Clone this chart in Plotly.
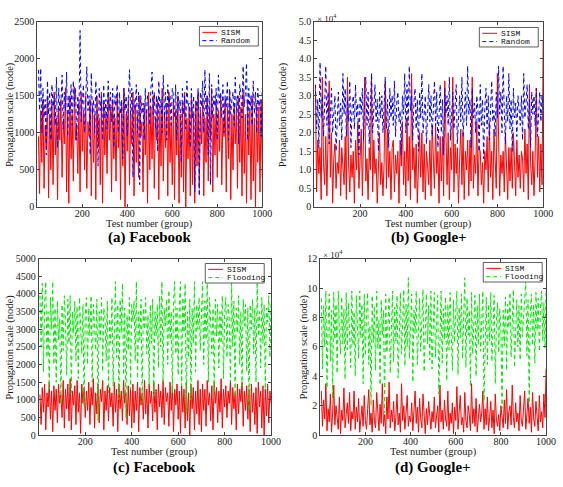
import plotly.graph_objects as go

W, H = 563, 487

# Test numbers (group), one sample every 5 groups
test_no = list(range(5, 1001, 5))

# (a) Facebook: SISM vs Random (nodes)
a_sism = [950,180,1300,600,1450,250,1100,800,1500,120,1250,500,1400,300,1550,700,1200,100,1350,900,
          1450,400,1150,850,1600,200,1300,50,1500,650,1250,350,1620,900,1100,450,1400,200,1550,750,
          1300,500,1500,250,1150,950,1450,150,1350,600,1250,100,1500,800,1200,300,1550,50,1400,700,
          1250,450,1550,900,1350,200,1450,650,1200,350,1500,800,1300,100,1400,550,1600,0,1250,750,
          1450,300,1200,850,1550,150,1350,600,1250,400,1500,950,1150,200,1400,700,1300,50,1550,500,
          1350,650,1500,250,1200,900,1450,100,1300,550,1600,350,1250,800,1400,150,1550,600,1150,300,
          1450,100,1300,700,1500,50,1250,400,1400,200,1550,0,1200,650,1350,150,1500,300,1250,50,
          1400,550,1550,250,1300,850,1450,150,1200,600,1500,350,1350,900,1600,200,1250,700,1450,400,
          1300,750,1500,300,1200,950,1450,200,1350,650,1550,100,1250,500,1400,850,1300,250,1500,600,
          1350,150,1550,450,1250,50,1450,700,1300,100,1500,350,1200,0,1400,600,1350,200,1450,400]
a_random = [1850,1300,1870,1000,1600,1200,1450,700,1700,1250,1550,900,1650,1350,1500,1100,1750,800,1600,1300,
            1400,1780,1050,1550,1300,1820,950,1500,1250,1650,1100,1700,1350,1600,900,1500,1250,2380,1150,1450,
            1650,1000,1600,1890,1300,1500,700,1810,1250,1450,1000,1700,1400,550,1600,1300,1500,900,1650,1200,
            1450,1050,1700,1300,1550,1150,1600,800,1500,1350,1650,1000,1550,1250,1450,650,1600,1300,1500,950,
            1500,1850,1200,1600,400,1450,1300,1650,1000,1550,300,1500,1250,1400,900,1600,1150,1500,1350,1100,
            1600,1820,1250,1550,1050,1500,750,1700,1300,1450,1000,1780,1200,1550,900,1650,1350,1500,1100,1600,
            1500,1200,1650,900,1550,1300,1450,600,1600,1250,1500,1050,1700,1350,1400,800,1600,1200,1500,200,
            1450,1300,1600,150,1550,1350,1700,1000,1850,1250,1500,700,1800,300,1650,1200,1500,1350,1600,900,
            1780,1400,1550,1200,1650,1000,1500,1350,1700,900,1600,1250,1450,1550,1100,1750,1300,1500,850,1650,
            1500,1200,1900,1350,1550,1940,900,1600,1300,1500,1100,1700,1250,1550,1000,1600,1350,1450,950,1600]

# (b) Google+: SISM vs Random (x 10^4 nodes)
b_sism = [3.2,0.4,1.8,0.9,1.6,0.2,3.5,1.2,0.6,1.9,0.3,1.5,3.4,0.8,2.0,0.1,1.3,1.7,0.5,1.2,
          0.9,1.8,0.3,1.6,1.2,0.6,1.9,0.2,3.5,1.1,0.4,1.4,0.8,1.5,0.1,1.8,1.0,2.3,0.5,1.4,
          2.1,0.3,1.7,3.5,0.7,1.3,0.2,1.6,1.0,3.6,0.4,1.8,0.9,1.3,0.1,1.5,2.0,0.6,1.2,0.3,
          1.2,3.4,0.5,2.1,0.8,1.5,0.2,1.6,1.8,0.4,1.4,0.9,1.5,0.1,1.8,1.1,2.3,0.6,1.5,0.3,
          2.4,0.7,1.9,0.2,3.6,1.0,1.6,0.5,1.7,0.1,1.3,2.0,0.8,2.0,0.4,1.7,0.2,1.5,1.1,0.6,
          1.8,0.3,2.2,1.2,0.5,2.2,0.9,1.5,0.1,1.9,0.7,1.9,0.3,3.4,1.4,0.6,2.0,0.2,1.6,1.0,
          3.5,0.4,1.7,0.9,1.6,0.1,1.3,2.1,0.6,2.0,0.2,1.5,1.0,1.8,0.3,1.8,0.7,3.5,0.5,1.4,
          0.9,2.3,0.3,1.6,1.5,0.6,1.2,0.1,1.5,1.0,1.9,0.4,2.3,0.8,1.5,0.2,2.1,1.1,0.5,3.6,
          1.8,0.3,1.4,0.9,1.5,0.4,2.0,1.2,0.2,1.6,0.7,1.6,0.5,2.0,1.1,0.3,1.8,0.8,1.4,0.5,
          1.5,1.3,0.4,2.1,0.9,1.7,0.2,3.3,1.2,0.6,1.5,0.3,1.4,3.2,0.8,1.9,0.4,1.7,0.6,4.5]
b_random = [3.3,2.1,2.9,1.6,3.9,2.4,3.0,1.9,2.7,3.8,2.2,3.1,1.7,2.8,3.2,2.0,2.6,3.0,1.5,2.5,
            3.1,2.2,2.8,1.8,3.6,2.5,3.2,1.9,2.9,2.3,3.4,1.6,2.7,3.0,2.1,3.3,2.4,2.8,1.4,3.0,
            2.5,3.2,1.8,2.9,3.5,2.2,3.1,1.7,2.6,3.6,2.0,2.8,3.3,2.3,2.9,1.5,3.1,2.4,3.0,2.0,
            2.7,3.5,2.1,2.9,1.6,3.2,2.4,3.0,2.2,3.4,1.9,2.8,3.1,2.3,2.6,1.4,3.0,2.5,3.6,2.0,
            3.3,2.2,3.8,2.6,3.0,1.8,2.8,3.2,2.1,2.9,1.5,3.1,2.4,3.6,2.0,2.7,3.0,1.7,2.5,3.3,
            2.3,3.0,1.9,2.8,3.4,2.2,3.1,1.6,2.6,3.3,2.0,2.9,1.4,3.2,2.5,3.0,2.2,3.5,1.8,2.7,
            3.1,2.1,2.8,3.3,1.7,2.6,3.0,2.3,3.5,1.9,2.7,3.1,2.2,3.8,2.5,2.9,1.6,3.2,2.4,2.8,
            2.0,3.0,2.6,1.5,3.3,2.2,2.9,1.3,2.7,3.2,2.1,3.0,1.8,2.8,3.4,2.3,2.6,1.9,3.1,2.4,
            3.8,2.5,3.1,2.0,3.8,2.6,1.7,3.0,2.3,3.6,2.1,2.9,1.5,3.2,2.4,2.8,1.9,3.0,2.5,2.2,
            3.0,1.8,3.6,2.4,2.8,3.3,2.1,2.9,1.6,3.1,2.5,3.0,2.2,3.2,1.9,2.7,3.1,2.3,3.0,2.6]

# (c) Facebook: SISM vs Flooding (nodes)
c_sism = [1150,300,1350,650,1450,150,1200,800,1500,450,1250,100,1400,700,1300,350,1450,900,1150,500,
          1550,200,1300,750,1450,400,1600,150,1250,850,1400,300,1550,650,1200,50,1450,900,1350,500,
          1250,700,1500,300,1350,850,1600,200,1200,600,1450,350,1300,950,1550,150,1250,700,1400,400,
          1350,800,1200,250,1500,650,1300,100,1450,750,1250,400,1550,900,1200,300,1400,550,1300,200,
          1450,350,1250,700,1500,100,1350,850,1200,450,1550,600,1300,200,1450,900,1250,400,1500,650,
          1300,150,1450,800,1250,500,1550,300,1350,950,1200,250,1500,700,1400,100,1300,850,1450,450,
          1250,50,1400,650,1300,200,1500,400,1200,0,1450,750,1350,150,1250,600,1550,300,1300,100,
          1450,700,1300,250,1550,850,1200,400,1400,150,1500,900,1350,350,1250,650,1600,200,1300,800,
          1400,500,1250,900,1550,300,1350,750,1200,150,1450,600,1300,950,1500,250,1250,700,1400,450,
          1300,100,1450,650,1200,300,1350,50,1500,800,1250,200,1400,0,1300,550,1450,350,1250,900]
c_flooding = [3950,2500,4300,1800,3700,4350,2200,3500,1300,3900,3000,4350,2000,3600,1500,3800,2700,3300,900,3700,
              2400,3950,3100,1700,3850,2600,3950,1200,3500,2900,3800,2100,3650,1600,3900,3200,2300,3700,800,3400,
              3900,2000,3600,2800,3950,1500,3700,3100,2400,3850,400,3500,2700,3900,1800,3600,3300,2100,3800,1200,
              3300,2600,3900,1400,3500,4350,2200,3700,1000,3850,2900,4300,1700,3600,500,3400,2400,3900,1300,3700,
              3200,3800,2100,4350,1600,3500,2700,3850,900,3600,3000,3900,2300,3400,1400,3700,2600,3850,1100,3500,
              2800,3700,1900,3950,2500,4350,1500,3600,3100,3850,2000,4100,2700,3500,1200,3800,4350,2300,3600,1700,
              3700,4350,1400,3900,2900,4300,600,3500,2200,3850,1000,3600,2600,4350,1800,3700,3000,3900,2400,3600,
              4350,2000,3800,2700,4300,1500,3900,3200,2300,3600,1200,3850,2800,3700,1900,3500,2600,3950,1600,3400,
              3900,2200,3700,3300,1500,4300,2500,3800,1100,3600,2900,3950,2000,3500,1400,3850,3100,3700,1800,3600,
              700,3700,3000,3850,2300,3600,1500,4350,2800,3500,1900,3900,2600,3700,1300,3600,3200,3950,2200,3800]

# (d) Google+: SISM vs Flooding (x 10^4 nodes)
d_sism = [3.0,0.6,2.4,1.1,3.5,0.3,1.8,0.9,2.8,0.2,1.5,3.4,0.7,2.0,1.2,0.4,2.6,0.1,1.7,1.0,
          3.2,0.5,1.4,2.2,0.8,2.9,0.3,1.6,1.1,3.0,0.4,1.9,0.9,2.5,0.2,1.3,2.0,0.6,2.7,1.0,
          0.4,1.8,3.1,0.7,1.5,0.2,2.4,1.0,0.5,2.9,1.3,0.3,2.1,0.8,3.5,0.6,1.4,0.1,2.6,1.1,
          3.6,0.5,1.7,0.9,2.3,0.3,1.2,2.8,0.7,1.5,0.2,3.5,1.0,2.0,0.4,1.6,2.7,0.6,1.3,0.9,
          2.2,0.3,1.5,3.0,0.8,1.9,0.2,2.5,1.1,0.5,2.8,1.4,0.1,1.8,0.7,2.3,1.0,0.4,1.6,0.9,
          2.6,0.5,1.3,2.0,0.2,3.4,0.9,1.7,0.4,2.4,1.1,0.6,3.0,0.3,1.5,0.8,2.2,0.1,1.9,1.0,
          3.3,0.4,1.6,2.7,0.7,1.2,0.2,2.9,1.0,0.5,2.0,1.4,0.3,3.5,0.8,1.8,0.6,2.5,0.2,1.3,
          2.1,0.9,1.5,3.0,0.4,1.8,0.7,2.6,0.3,1.2,2.3,0.5,1.7,0.1,2.8,1.0,0.6,1.4,0.3,2.0,
          1.1,0.5,2.4,0.8,3.1,0.4,1.6,2.0,0.7,3.4,1.2,0.5,2.2,0.9,1.5,0.3,2.7,1.0,0.6,1.8,
          3.0,0.4,1.4,2.5,0.8,1.9,0.2,2.9,1.1,0.6,2.3,1.0,0.3,2.7,0.9,1.6,0.5,2.8,1.2,4.5]
d_flooding = [9.3,4.5,8.8,6.0,9.8,3.2,7.5,9.6,5.0,8.5,2.5,9.7,6.5,8.9,4.2,9.8,7.0,5.5,9.4,6.2,
              8.6,3.8,9.7,5.8,9.0,7.2,4.6,9.8,6.1,8.4,4.0,9.5,7.7,5.2,9.8,6.6,8.9,3.5,9.6,5.4,
              8.2,9.7,4.8,7.4,2.0,9.5,6.3,8.8,4.4,9.8,5.9,7.8,3.4,9.2,6.8,8.5,1.5,9.6,5.6,8.0,
              9.4,4.2,7.1,9.8,5.0,8.7,6.4,9.5,3.9,8.1,9.7,5.5,7.6,9.9,4.7,8.9,6.0,10.7,5.2,8.4,
              9.6,3.6,8.5,6.9,9.8,4.8,7.9,9.3,5.7,8.6,9.9,4.3,7.2,9.6,6.2,8.8,5.1,9.8,4.5,8.1,
              9.7,5.3,8.3,9.5,2.8,7.6,9.8,4.9,8.6,6.5,9.4,3.7,8.9,5.8,9.7,7.0,4.4,9.2,6.3,8.4,
              9.8,4.1,8.7,6.6,9.6,5.2,8.0,10.7,4.6,9.3,6.8,8.5,3.3,9.7,5.5,7.9,9.5,4.0,8.8,6.1,
              9.6,5.7,8.4,9.8,2.3,7.5,9.4,4.8,8.9,6.4,9.7,5.0,8.2,9.5,3.5,7.8,9.0,5.6,8.6,7.0,
              1.8,8.5,6.1,9.4,4.4,8.9,7.3,9.7,5.3,8.6,9.9,4.6,7.7,9.2,6.0,8.8,5.1,9.6,6.7,8.3,
              9.8,10.5,5.4,9.2,2.2,8.4,9.6,6.1,8.9,4.9,9.7,7.1,9.3,5.7,8.6,9.8,6.4,9.0,5.9,10.0]

x_ticks = [200, 400, 600, 800, 1000]
a_yticks = [0, 500, 1000, 1500, 2000, 2500]
b_yticks = [0, 0.5, 1.0, 1.5, 2.0, 2.5, 3.0, 3.5, 4.0, 4.5, 5.0]
b_yticktext = ["0", "0.5", "1.0", "1.5", "2.0", "2.5", "3.0", "3.5", "4.0", "4.5", "5.0"]
c_yticks = [0, 500, 1000, 1500, 2000, 2500, 3000, 3500, 4000, 4500, 5000]
d_yticks = [0, 2, 4, 6, 8, 10, 12]

titles = ["(a) Facebook", "(b) Google+", "(c) Facebook", "(d) Google+"]
x_title = "Test number (group)"
y_title = "Propagation scale (node)"

RED, BLUE, GREEN = "#ff0000", "#0000ff", "#00e600"
DASH = "4px,3px"
LW = 1


def px_x(p):
    return p / W


def px_y(p):
    return 1 - p / H


fig = go.Figure()

panels = [
    # xaxis, yaxis, series1, series2, name2, color2, plot box (px: l, r, t, b)
    ("x", "y", a_sism, a_random, "Random", BLUE, (38, 267, 16, 206)),
    ("x2", "y2", b_sism, b_random, "Random", BLUE, (320, 553, 16, 206)),
    ("x3", "y3", c_sism, c_flooding, "Flooding", GREEN, (39.5, 276, 259, 440)),
    ("x4", "y4", d_sism, d_flooding, "Flooding", GREEN, (326, 556, 259, 440)),
]

for xa, ya, s1, s2, n2, c2, _ in panels:
    fig.add_trace(go.Scatter(x=test_no, y=s1, mode="lines", name="SISM",
                             line=dict(color=RED, width=LW), xaxis=xa, yaxis=ya,
                             showlegend=False))
    fig.add_trace(go.Scatter(x=test_no, y=s2, mode="lines", name=n2,
                             line=dict(color=c2, width=LW, dash=DASH), xaxis=xa, yaxis=ya,
                             showlegend=False))

TICKFONT = dict(family="Liberation Serif", size=10, color="#1a1a1a")
TITLEFONT = dict(family="Liberation Serif", size=10.5, color="#1a1a1a")
LEGFONT = dict(family="Liberation Mono", size=8, color="#111")

common = dict(showline=True, linecolor="#444", linewidth=1, mirror="ticks",
              ticks="inside", ticklen=3, tickcolor="#444", showgrid=False,
              zeroline=False, tickfont=TICKFONT)

layout = dict(width=W, height=H, margin=dict(l=0, r=0, t=0, b=0),
              paper_bgcolor="white", plot_bgcolor="white", showlegend=False)

yspecs = [
    (a_yticks, [str(v) for v in a_yticks], [0, 2500]),
    (b_yticks, b_yticktext, [0, 5]),
    (c_yticks, [str(v) for v in c_yticks], [0, 5000]),
    (d_yticks, [str(v) for v in d_yticks], [0, 12]),
]

# legend boxes (px: left, top)
legend_box = [(203, 21), (488, 22), (209, 264), (492, 263)]
ytitle_x = [10, 288, 10, 309]
xtitle_y = [223, 223, 457, 457]

annotations = []
shapes = []
for i, (xa, ya, s1, s2, n2, c2, box) in enumerate(panels):
    l, r, t, b = box
    suffix = "" if i == 0 else str(i + 1)
    layout["xaxis" + suffix] = dict(
        common, domain=[px_x(l), px_x(r)], range=[0, 1000], anchor="y" + suffix,
        tickvals=x_ticks, ticklabelstandoff=-3)
    tv, tt, rg = yspecs[i]
    layout["yaxis" + suffix] = dict(
        common, domain=[px_y(b), px_y(t)], range=rg, anchor="x" + suffix,
        tickvals=tv, ticktext=tt)

    # axis titles
    annotations.append(dict(text=x_title, xref="paper", yref="paper",
                            x=px_x((l + r) / 2), y=px_y(xtitle_y[i]),
                            xanchor="center", yanchor="middle", showarrow=False,
                            font=TITLEFONT))
    annotations.append(dict(text=y_title, xref="paper", yref="paper",
                            x=px_x(ytitle_x[i]), y=px_y((t + b) / 2), textangle=-90,
                            xanchor="center", yanchor="middle", showarrow=False,
                            font=TITLEFONT))
    # panel caption
    annotations.append(dict(text="<b>" + titles[i] + "</b>", xref="paper", yref="paper",
                            x=px_x((l + r) / 2), y=px_y(237 if i < 2 else 473),
                            xanchor="center", yanchor="middle", showarrow=False,
                            font=dict(family="Liberation Serif", size=15, color="black")))

    # legend (Matlab-style small box)
    bl, bt = legend_box[i]
    bw, bh = 60, 20
    shapes.append(dict(type="rect", xref="paper", yref="paper",
                       x0=px_x(bl), x1=px_x(bl + bw), y0=px_y(bt + bh), y1=px_y(bt),
                       line=dict(color="#333", width=0.8), fillcolor="white", layer="above"))
    for k, (name, color, dash) in enumerate([("SISM", RED, "solid"), (n2, c2, DASH)]):
        yy = bt + 6 + k * 8.5
        shapes.append(dict(type="line", xref="paper", yref="paper",
                           x0=px_x(bl + 3), x1=px_x(bl + 18), y0=px_y(yy), y1=px_y(yy),
                           line=dict(color=color, width=1, dash=dash), layer="above"))
        annotations.append(dict(text=name, xref="paper", yref="paper",
                                x=px_x(bl + 20), y=px_y(yy), xanchor="left", yanchor="middle",
                                showarrow=False, font=LEGFONT))

annotations.append(dict(text="× 10<sup>4</sup>", xref="paper", yref="paper",
                        x=px_x(321), y=px_y(12), xanchor="left", yanchor="middle",
                        showarrow=False, font=dict(family="Liberation Serif", size=9, color="#222")))
annotations.append(dict(text="× 10<sup>4</sup>", xref="paper", yref="paper",
                        x=px_x(327), y=px_y(254), xanchor="left", yanchor="middle",
                        showarrow=False, font=dict(family="Liberation Serif", size=9, color="#222")))

layout["annotations"] = annotations
layout["shapes"] = shapes
fig.update_layout(**layout)

fig.write_html("out.html")
